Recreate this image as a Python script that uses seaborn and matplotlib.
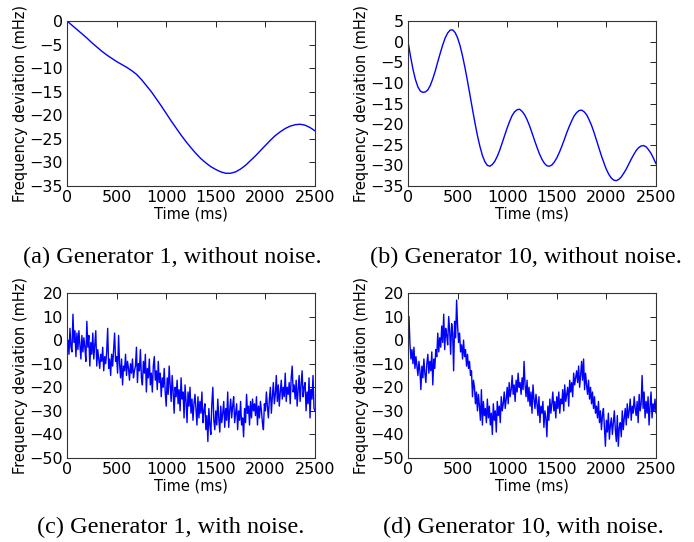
#!/usr/bin/env python
"""Frequency deviation of generators 1 and 10, with and without noise."""

import matplotlib

matplotlib.use("Agg")
import matplotlib.pyplot as plt
import seaborn as sns

# generator 1, clean trace, sampled every 50 ms
TIME_GEN1 = list(range(0, 2501, 50))
GEN1_CLEAN = [
    0, -0.9, -1.8, -2.7, -3.6, -4.6, -5.5, -6.4, -7.2, -7.9,
    -8.6, -9.2, -9.8, -10.5, -11.3, -12.4, -13.7, -15.0, -16.5, -18.0,
    -19.6, -21.2, -22.7, -24.2, -25.6, -26.9, -28.1, -29.2, -30.1, -30.9,
    -31.5, -32.0, -32.3, -32.3, -32.0, -31.4, -30.6, -29.6, -28.6, -27.5,
    -26.4, -25.3, -24.3, -23.5, -22.8, -22.3, -22.0, -21.9, -22.1, -22.6,
    -23.3,
]

# generator 10, clean trace, sampled every 25 ms
TIME_GEN10 = list(range(0, 2501, 25))
GEN10_CLEAN = [
    0, -3.5, -6.7, -9.2, -11.0, -12.0, -12.3, -12.2, -11.7, -10.6,
    -9.0, -7.1, -4.9, -2.8, -0.8, 0.9, 2.1, 2.8, 2.85, 2.2,
    0.9, -1.0, -3.5, -6.4, -9.6, -13.0, -16.4, -19.7, -22.8, -25.4,
    -27.6, -29.1, -30.0, -30.2, -29.8, -29.0, -27.8, -26.3, -24.5, -22.7,
    -20.9, -19.3, -17.9, -17.0, -16.5, -16.4, -16.9, -17.7, -18.9, -20.4,
    -22.1, -23.9, -25.6, -27.2, -28.5, -29.5, -30.1, -30.2, -29.9, -29.2,
    -28.2, -26.9, -25.4, -23.8, -22.1, -20.6, -19.2, -18.0, -17.2, -16.7,
    -16.6, -17.0, -17.7, -18.9, -20.3, -22.0, -23.9, -25.8, -27.7, -29.4,
    -31.0, -32.2, -33.1, -33.6, -33.7, -33.4, -32.8, -31.9, -30.9, -29.7,
    -28.5, -27.4, -26.4, -25.7, -25.3, -25.2, -25.5, -26.2, -27.1, -28.3,
    -29.6,
]

# noisy traces, sampled every 10 ms
TIME_NOISY = list(range(0, 2501, 10))
GEN1_NOISY = [
    -2, 0, -6, 5, -3, -5, 11, -1, 4, -7,
    3, -4, 4, -2, -8, 2, -5, 1, -3, -9,
    8, -3, 2, -11, -1, -6, 3, -8, -2, 4,
    -11, -4, -8, -12, -6, -9, -3, -13, -7, -10,
    -5, 5, -12, -8, -15, -6, -11, -4, 3, -9,
    -7, -14, 2, -10, -16, -8, -19, -11, -13, -6,
    -15, -9, -12, -17, -10, -14, -8, -16, -13, -11,
    -3, -18, -10, -13, -4, -16, -19, -9, -14, -6,
    -22, -12, -16, -8, -19, -14, -22, -11, -7, -17,
    -13, -21, -9, -18, -14, -24, -16, -20, -12, -22,
    -28, -16, -23, -11, -19, -26, -15, -22, -31, -20,
    -24, -17, -27, -21, -30, -16, -25, -22, -33, -19,
    -26, -35, -22, -28, -20, -31, -25, -34, -27, -23,
    -29, -36, -24, -33, -26, -31, -22, -35, -30, -27,
    -38, -32, -43, -29, -36, -40, -27, -20, -34, -38,
    -30, -36, -25, -33, -39, -28, -35, -31, -26, -37,
    -29, -34, -22, -37, -30, -25, -33, -28, -24, -35,
    -31, -27, -38, -30, -34, -26, -36, -33, -41, -29,
    -35, -23, -31, -28, -36, -26, -33, -25, -30, -27,
    -32, -24, -36, -28, -33, -26, -30, -35, -38, -27,
    -30, -22, -28, -33, -25, -20, -31, -24, -18, -27,
    -23, -15, -26, -19, -28, -22, -17, -25, -20, -24,
    -14, -26, -20, -23, -18, -27, -16, -11, -22, -19,
    -25, -17, -28, -21, -15, -26, -19, -13, -24, -20,
    -18, -30, -22, -27, -16, -33, -21, -25, -15, -29,
    -30,
]
GEN10_NOISY = [
    -5, 10, -2, -8, -4, -10, -3, -12, -7, -11,
    -15, -9, -13, -21, -11, -16, -8, -14, -18, -10,
    -6, -14, -9, -13, -5, -19, -8, -12, -4, -7,
    3, -5, 1, -3, 6, -1, 11, -4, 5, 2,
    -2, 10, 4, -6, 7, 3, -13, 8, 1, 17,
    6, -1, 3, -5, -2, -8, 0, -7, -4, -11,
    -6, -12, -9, -15, -13, -24, -17, -20, -27, -22,
    -30, -23, -28, -34, -21, -36, -26, -32, -29, -35,
    -25, -33, -28, -36, -31, -40, -27, -34, -30, -39,
    -26, -32, -28, -35, -24, -30, -27, -22, -29, -25,
    -20, -27, -18, -24, -21, -15, -23, -19, -26, -17,
    -22, -14, -20, -18, -23, -16, -21, -9, -19, -24,
    -17, -26, -20, -28, -22, -31, -19, -25, -29, -23,
    -27, -32, -24, -35, -28, -31, -26, -37, -30, -33,
    -41, -28, -34, -25, -31, -27, -22, -30, -26, -33,
    -24, -29, -22, -31, -25, -27, -21, -30, -19, -26,
    -23, -20, -28, -17, -22, -18, -24, -14, -19, -16,
    -13, -18, -11, -20, -15, -9, -17, -8, -21, -14,
    -19, -23, -17, -25, -20, -27, -22, -29, -24, -31,
    -28, -33, -26, -35, -30, -38, -32, -29, -37, -45,
    -34, -39, -31, -42, -36, -33, -40, -35, -30, -38,
    -43, -32, -45, -37, -35, -41, -30, -38, -33, -29,
    -36, -27, -33, -30, -25, -34, -28, -31, -24, -29,
    -32, -26, -35, -23, -30, -27, -15, -29, -22, -33,
    -26, -31, -24, -36, -28, -22, -33, -27, -30, -25,
    -31,
]

CAPTIONS = [
    "(a) Generator 1, without noise.",
    "(b) Generator 10, without noise.",
    "(c) Generator 1, with noise.",
    "(d) Generator 10, with noise.",
]
X_TICKS = [0, 500, 1000, 1500, 2000, 2500]
Y_TICKS_A = list(range(-35, 1, 5))
Y_TICKS_B = list(range(-35, 6, 5))
Y_TICKS_NOISY = list(range(-50, 21, 10))


def panel(fig, rect, x, y, yticks, caption, cap_xy, lw):
    ax = fig.add_axes(rect)
    sns.lineplot(x=x, y=y, ax=ax, color="#0000ff", linewidth=lw)
    ax.set_xlim(0, 2500)
    ax.set_ylim(yticks[0], yticks[-1])
    ax.set_xticks(X_TICKS)
    ax.set_yticks(yticks)
    ax.set_xlabel("Time (ms)", fontsize=10.5, labelpad=1)
    ax.set_ylabel("Frequency deviation (mHz)", fontsize=10.5, labelpad=1)
    ax.tick_params(direction="in", top=True, right=True, length=4,
                   width=0.6, labelsize=11.5, pad=3)
    for spine in ax.spines.values():
        spine.set_linewidth(0.8)
        spine.set_color("#333333")
    fig.text(cap_xy[0], cap_xy[1], caption, ha="center", va="center",
             family="Liberation Serif", fontsize=17.5)
    return ax


def main() -> None:
    sns.set_theme(style="white")
    plt.rcParams["font.family"] = "DejaVu Sans"
    plt.rcParams["text.color"] = "black"
    plt.rcParams["axes.labelcolor"] = "black"
    plt.rcParams["xtick.color"] = "black"
    plt.rcParams["ytick.color"] = "black"

    fig = plt.figure(figsize=(6.94, 5.42), dpi=100)
    w, h = 694, 542
    left_l, left_r = 67 / w, 408 / w
    aw = 248 / w
    ah = 165 / h
    bot_top = 1 - 186 / h
    bot_bottom = 1 - 458 / h

    panel(fig, [left_l, bot_top, aw, ah], TIME_GEN1, GEN1_CLEAN, Y_TICKS_A,
          CAPTIONS[0], (172 / w, 1 - 257 / h), 1.0)
    panel(fig, [left_r, bot_top, aw, ah], TIME_GEN10, GEN10_CLEAN, Y_TICKS_B,
          CAPTIONS[1], (526 / w, 1 - 257 / h), 1.0)
    panel(fig, [left_l, bot_bottom, aw, ah], TIME_NOISY, GEN1_NOISY, Y_TICKS_NOISY,
          CAPTIONS[2], (171 / w, 1 - 527 / h), 1.0)
    panel(fig, [left_r, bot_bottom, aw, ah], TIME_NOISY, GEN10_NOISY, Y_TICKS_NOISY,
          CAPTIONS[3], (523 / w, 1 - 527 / h), 1.0)

    fig.savefig("out.png", dpi=100)
    plt.close(fig)


if __name__ == "__main__":
    main()
